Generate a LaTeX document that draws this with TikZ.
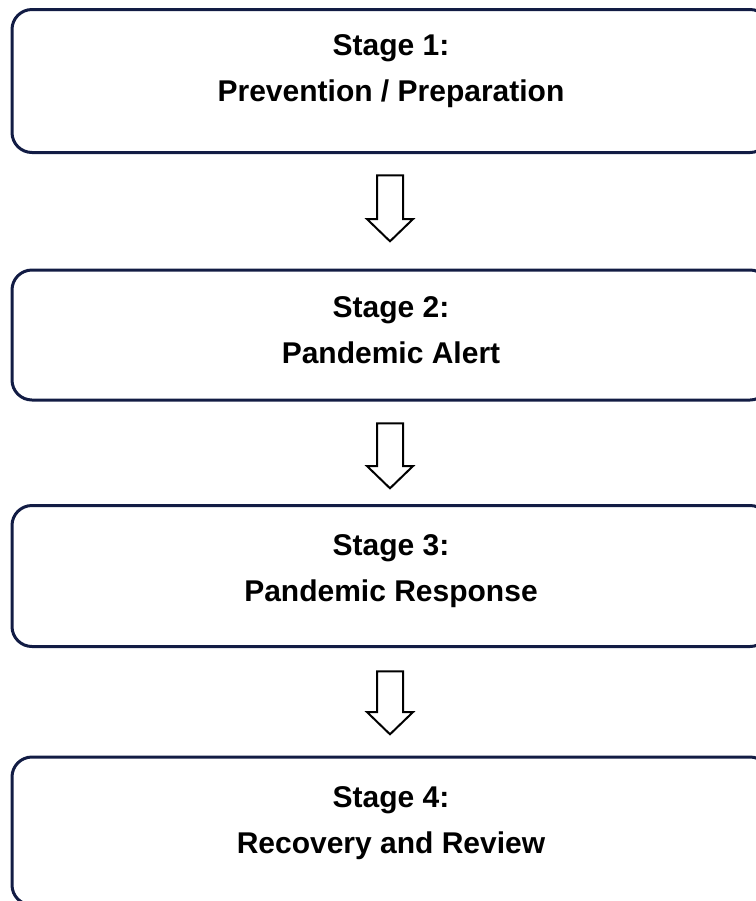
\documentclass[tikz,border=0pt]{standalone}
\usepackage{fontspec}
\setmainfont{Liberation Sans}
\usepackage{xcolor}
\usetikzlibrary{shapes.arrows,
	positioning}
\definecolor{boxnavy}{RGB}{18,28,68}
\tikzstyle{stage}=[draw=boxnavy, line width=1.5pt, rounded corners=10pt,
		minimum width=379pt, inner sep=0]
\tikzstyle{stagetext}=[align=center, inner sep=0,
		font=\fontsize{15}{23}\selectfont\bfseries]
\tikzstyle{down}=[single arrow, draw=black, line width=1pt, inner xsep=6pt,
		inner ysep=0, shape border rotate=270, minimum height=33pt,
		single arrow head extend=5pt, single arrow tip angle=92]

\begin{document}
\begin{tikzpicture}[x=0.5pt, y=-0.5pt]
        \useasboundingbox (0,0) rectangle (756,901);
        \node[stage, minimum height=71.5pt] (s1) at (391,81) {};
        \node[stage, minimum height=65pt] (s2) at (391,335) {};
        \node[stage, minimum height=70.5pt] (s3) at (391,576) {};
        \node[stage, minimum height=74pt] (s4) at (391,831) {};
        \node[stagetext] (t1) at ([yshift=5pt]s1.center) {Stage 1:\\Prevention / Preparation};
        \node[stagetext] (t2) at ([yshift=2.5pt]s2.center) {Stage 2:\\Pandemic Alert};
        \node[stagetext] (t3) at ([yshift=2.5pt]s3.center) {Stage 3:\\Pandemic Response};
        \node[stagetext] (t4) at ([yshift=4pt]s4.center) {Stage 4:\\Recovery and Review};
        \node[down] (a1) at (390,202) {};
        \node[down, minimum height=32.5pt] (a2) at (390,449.5) {};
        \node[down, minimum height=31.5pt] (a3) at (390,696.5) {};
    \end{tikzpicture}
\end{document}
